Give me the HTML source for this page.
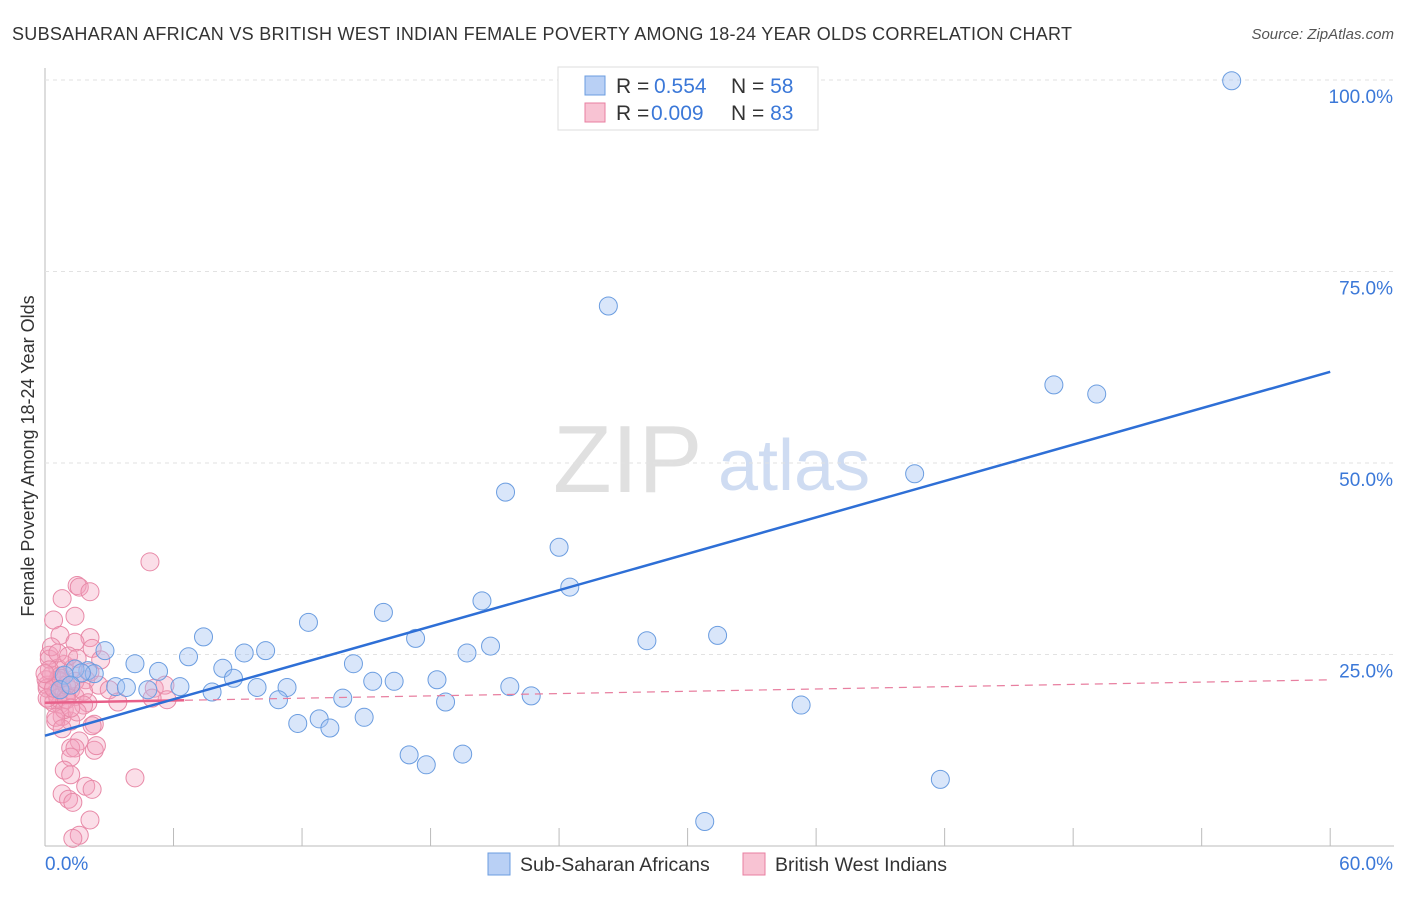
<!DOCTYPE html>
<html><head><meta charset="utf-8"><style>
body{margin:0;background:#fff;font-family:"Liberation Sans",sans-serif;}
svg text{font-family:"Liberation Sans",sans-serif;}
</style></head><body>
<svg id="c" width="1406" height="892">
<text x="12" y="40" font-size="18" fill="#333" textLength="1060">SUBSAHARAN AFRICAN VS BRITISH WEST INDIAN FEMALE POVERTY AMONG 18-24 YEAR OLDS CORRELATION CHART</text>
<text x="1394" y="39" font-size="15" fill="#555" font-style="italic" text-anchor="end">Source: ZipAtlas.com</text>
<text x="34" y="456" font-size="18" fill="#333" text-anchor="middle" transform="rotate(-90 34 456)">Female Poverty Among 18-24 Year Olds</text>
<text x="553" y="492" font-size="96" fill="#e0e0e0" font-family="Liberation Serif">ZIP</text>
<text x="718" y="490" font-size="72" fill="#cfdcf2">atlas</text>
<g id="grid"></g><g id="pts"></g><g id="lines"></g>
<g>
<rect x="558" y="67" width="260" height="63" fill="#fff" stroke="#ddd"/>
<rect x="585" y="76" width="20" height="19" fill="#b9d0f5" stroke="#6b9de0"/>
<rect x="585" y="103" width="20" height="19" fill="#f8c3d3" stroke="#e87fa0"/>
<text x="616" y="93" font-size="21" fill="#333">R = <tspan x="654" fill="#3b78d8">0.554</tspan><tspan x="731">N = </tspan><tspan fill="#3b78d8">58</tspan></text>
<text x="616" y="120" font-size="21" fill="#333">R = <tspan x="651" fill="#3b78d8">0.009</tspan><tspan x="731">N = </tspan><tspan fill="#3b78d8">83</tspan></text>
</g>
<g>
<rect x="488" y="853" width="22" height="22" fill="#b9d0f5" stroke="#6b9de0"/>
<text x="520" y="871" font-size="19.5" fill="#333">Sub-Saharan Africans</text>
<rect x="743" y="853" width="22" height="22" fill="#f8c3d3" stroke="#e87fa0"/>
<text x="775" y="871" font-size="19.5" fill="#333">British West Indians</text>
</g>
</svg>
<script>
const blueX=[55.4,26.3,47.1,49.1,40.6,21.5,24.0,24.5,20.4,15.8,12.3,31.4,28.1,17.3,7.4,20.8,10.3,9.3,2.8,19.7,4.2,14.4,5.3,6.7,8.3,2.0,2.3,8.8,15.3,16.3,18.3,1.4,1.7,3.3,3.8,4.8,6.3,9.9,11.3,7.8,10.9,13.9,21.7,22.7,18.7,35.3,12.8,14.9,11.8,13.3,17.0,17.8,19.5,41.8,30.8,0.9,0.7,1.2];
const blueY=[99.9,70.5,60.2,59.0,48.6,46.2,39.0,33.8,32.0,30.5,29.2,27.5,26.8,27.1,27.3,26.1,25.5,25.2,25.5,25.2,23.8,23.8,22.8,24.7,23.2,22.9,22.5,21.9,21.5,21.5,21.7,23.1,22.6,20.8,20.7,20.4,20.8,20.7,20.7,20.1,19.1,19.3,20.8,19.6,18.8,18.4,16.6,16.8,16.0,15.4,11.9,10.6,12.0,8.7,3.2,22.3,20.4,21.0];
const pinkX=[4.9,1.5,1.6,2.1,0.8,1.4,0.4,0.7,2.1,1.4,0.2,2.2,2.6,0.6,0.9,1.3,0.3,0.6,0.1,0.8,1.2,0.5,1.0,0.2,0.7,1.4,1.9,2.1,2.5,3.0,3.4,5.1,5.6,5.7,5.0,0.8,1.2,0.5,2.3,2.2,1.6,1.2,1.4,2.3,2.4,1.2,0.9,1.2,4.2,1.9,2.2,0.8,1.1,1.3,2.1,1.6,1.3,0.2,0.3,0.1,0.4,0.6,0.9,0.5,0.7,1.0,1.4,1.8,2.0,0.6,1.1,1.5,0.05,0.1,0.4,0.75,1.0,1.8,1.5,0.8,0.2,0.0,1.2];
const pinkY=[37.1,34.0,33.8,33.2,32.3,30.0,29.5,27.5,27.2,26.6,24.9,25.8,24.3,23.2,23.7,23.2,22.3,21.7,21.0,20.6,20.4,20.0,19.7,19.1,18.5,19.5,21.7,22.7,21.0,20.4,18.8,20.6,21.0,19.1,19.3,16.9,16.3,16.3,15.9,15.7,13.7,12.8,12.8,12.5,13.1,11.6,9.9,9.3,8.9,7.8,7.4,6.8,6.1,5.7,3.4,1.4,1.0,24.4,26.0,20.6,18.7,19.3,17.8,16.8,22.2,21.0,21.5,20.2,18.7,25.2,24.8,24.5,21.7,19.3,20.6,21.9,19.1,18.4,17.5,15.3,23.0,22.5,18.0];
const blueLine=[14.4,61.9]; // y at x=0 and x=60
const pinkLine=[18.7,21.7];
const yTicks=[25,50,75,100];
const X=v=>45+v*21.42, Y=v=>846-v*7.66;
const ns="http://www.w3.org/2000/svg";
function mk(t,a,p){const e=document.createElementNS(ns,t);for(const k in a)e.setAttribute(k,a[k]);p.appendChild(e);return e;}
const g=document.getElementById('grid'),P=document.getElementById('pts'),L=document.getElementById('lines');
let ax=mk('line',{x1:45,y1:68,x2:45,y2:846,stroke:'#bbb'},g);


let bx=mk('line',{x1:45,y1:846,x2:1394,y2:846,stroke:'#bbb'},g);


yTicks.forEach(t=>{let l=mk('line',{x1:45,y1:Y(t),x2:1394,y2:Y(t),stroke:'#e2e2e2','stroke-dasharray':'4 4'},g);


let tx=mk('text',{x:1393,y:Y(t)+23,'font-size':19,fill:'#3b78d8','text-anchor':'end'},g);tx.textContent=t.toFixed(1)+'%';

});
for(let i=0;i<=10;i++){let l=mk('line',{x1:X(i*6),y1:828,x2:X(i*6),y2:846,stroke:'#bbb'},g);

}
let x0=mk('text',{x:45,y:870,'font-size':19,fill:'#3b78d8'},g);x0.textContent='0.0%';


let x1=mk('text',{x:1393,y:870,'font-size':19,fill:'#3b78d8','text-anchor':'end'},g);x1.textContent='60.0%';


pinkX.forEach((v,i)=>{let c=mk('circle',{cx:X(v),cy:Y(pinkY[i]),r:9,fill:'rgba(244,160,188,0.35)',stroke:'#e88aa8','stroke-width':1},P);

});
blueX.forEach((v,i)=>{let c=mk('circle',{cx:X(v),cy:Y(blueY[i]),r:9,fill:'rgba(160,192,242,0.4)',stroke:'#6b9de0','stroke-width':1},P);

});
let pl=mk('line',{x1:X(0),y1:Y(pinkLine[0]),x2:X(60),y2:Y(pinkLine[1]),stroke:'#e87fa0','stroke-width':1.2,'stroke-dasharray':'8 6'},L);


let ps=mk('line',{x1:X(0),y1:Y(pinkLine[0]),x2:X(6.5),y2:Y(pinkLine[0]+(pinkLine[1]-pinkLine[0])*6.5/60),stroke:'#e8608a','stroke-width':2.5},L);


let bl=mk('line',{x1:X(0),y1:Y(blueLine[0]),x2:X(60),y2:Y(blueLine[1]),stroke:'#2e6fd6','stroke-width':2.5},L);


</script>
</body></html>
